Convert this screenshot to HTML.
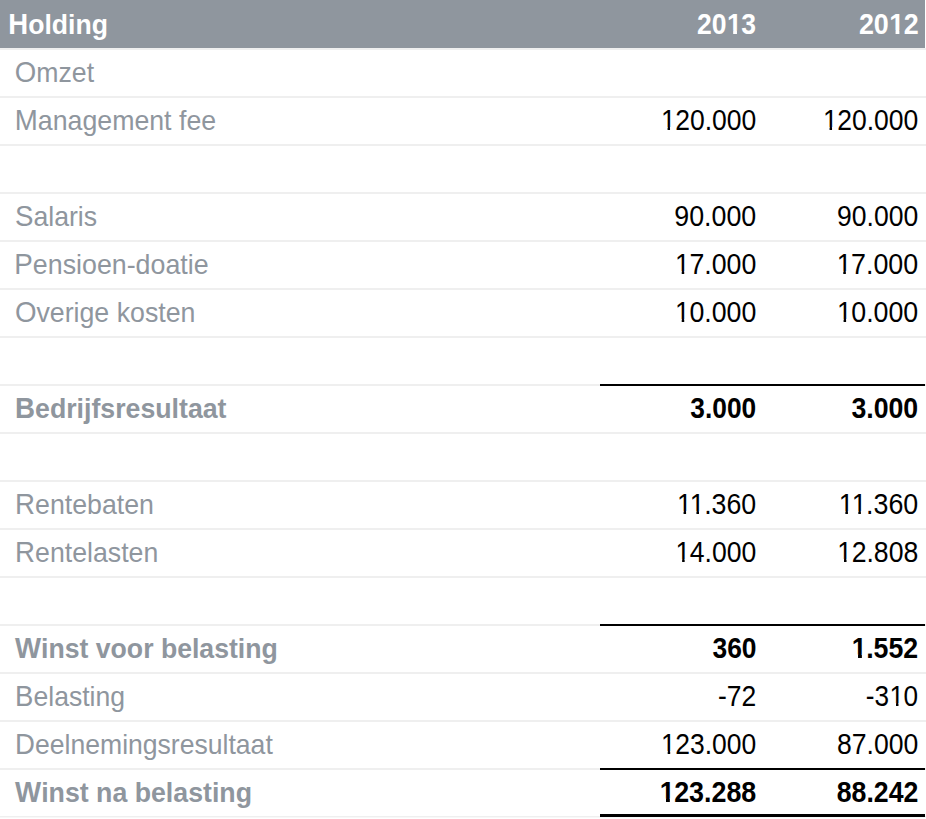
<!DOCTYPE html><html><head><meta charset="utf-8"><style>
*{margin:0;padding:0;box-sizing:border-box}
html,body{width:926px;height:819px;background:#fff;overflow:hidden}
body{position:relative;font-family:"Liberation Sans",Arial,sans-serif;font-size:29.0px}
.hd{position:absolute;left:0;top:0;width:925px;height:48px;background:#8f969e;color:#fff;font-weight:bold}
.r{position:absolute;left:0;width:925px;height:48px}
.ln{position:absolute;left:0;width:926px;height:2px;background:#efefef}
.bk{position:absolute;left:600px;width:325px;background:#000}
.t{position:absolute;white-space:nowrap;line-height:48px;top:0}
.l{left:15px;color:#8f969e;transform-origin:0 14px;font-size:28.0px}
.r .l{top:1px}
.hd .l{left:8px;top:1px;color:#fff;font-size:28.0px}
.c2,.c3{text-align:right;transform-origin:100% 14px}
.c2{right:170px}
.c3{right:8px}
.b{font-weight:bold}
.k{font-size:29.0px;line-height:0}
.o1{position:relative;left:0.6px;clip-path:polygon(0 0,100% 0,100% 23px,9.95px 23px,9.95px 100%,7.2px 100%,7.2px 23px,0 23px)}
.b .o1,.hd .o1{clip-path:polygon(0 0,100% 0,100% 22.4px,10.85px 22.4px,10.85px 100%,6.7px 100%,6.7px 22.4px,0 22.4px)}
.v{color:#000}
</style></head><body>
<div class="hd"><span class="t l" style="transform:translateX(0.31px) scaleX(0.9489)"><span class="k">H</span>olding</span><span class="t c2" style="transform:translateX(1.46px) scaleX(0.9142)">20<span class="o1">1</span>3</span><span class="t c3" style="transform:translateX(2.15px) scaleX(0.9266)">20<span class="o1">1</span>2</span></div>
<div class="r" style="top:48px"><span class="t l" style="transform:translateX(-0.21px) scaleX(0.9525)"><span class="k">O</span>mzet</span><span class="t c2 v"></span><span class="t c3 v"></span></div>
<div class="r" style="top:96px"><span class="t l" style="transform:translateX(-0.19px) scaleX(0.9540)"><span class="k">M</span>anagement fee</span><span class="t c2 v" style="transform:translateX(1.39px) scaleX(0.9139)"><span class="o1">1</span>20.000</span><span class="t c3 v" style="transform:translateX(1.39px) scaleX(0.9139)"><span class="o1">1</span>20.000</span></div>
<div class="r" style="top:144px"><span class="t l"></span><span class="t c2 v"></span><span class="t c3 v"></span></div>
<div class="r" style="top:192px"><span class="t l" style="transform:translateX(-0.02px) scaleX(0.9519)"><span class="k">S</span>alaris</span><span class="t c2 v" style="transform:translateX(1.55px) scaleX(0.9238)">90.000</span><span class="t c3 v" style="transform:translateX(1.49px) scaleX(0.9151)">90.000</span></div>
<div class="r" style="top:240px"><span class="t l" style="transform:translateX(-0.66px) scaleX(0.9566)"><span class="k">P</span>ensioen-doatie</span><span class="t c2 v" style="transform:translateX(1.53px) scaleX(0.9211)"><span class="o1">1</span>7.000</span><span class="t c3 v" style="transform:translateX(1.44px) scaleX(0.9252)"><span class="o1">1</span>7.000</span></div>
<div class="r" style="top:288px"><span class="t l" style="transform:translateX(-0.10px) scaleX(0.9546)"><span class="k">O</span>verige kosten</span><span class="t c2 v" style="transform:translateX(1.53px) scaleX(0.9211)"><span class="o1">1</span>0.000</span><span class="t c3 v" style="transform:translateX(1.53px) scaleX(0.9227)"><span class="o1">1</span>0.000</span></div>
<div class="r" style="top:336px"><span class="t l"></span><span class="t c2 v"></span><span class="t c3 v"></span></div>
<div class="r b" style="top:384px"><span class="t l" style="transform:translateX(0.05px) scaleX(0.9538)"><span class="k">B</span>edrijfsresultaat</span><span class="t c2 v" style="transform:translateX(1.57px) scaleX(0.9072)">3.000</span><span class="t c3 v" style="transform:translateX(1.62px) scaleX(0.9196)">3.000</span></div>
<div class="r" style="top:432px"><span class="t l"></span><span class="t c2 v"></span><span class="t c3 v"></span></div>
<div class="r" style="top:480px"><span class="t l" style="transform:translateX(0.08px) scaleX(0.9537)"><span class="k">R</span>entebaten</span><span class="t c2 v" style="transform:translateX(1.58px) scaleX(0.9215)"><span class="o1">1</span><span class="o1">1</span>.360</span><span class="t c3 v" style="transform:translateX(1.64px) scaleX(0.9243)"><span class="o1">1</span><span class="o1">1</span>.360</span></div>
<div class="r" style="top:528px"><span class="t l" style="transform:translateX(0.09px) scaleX(0.9536)"><span class="k">R</span>entelasten</span><span class="t c2 v" style="transform:translateX(1.51px) scaleX(0.9157)"><span class="o1">1</span>4.000</span><span class="t c3 v" style="transform:translateX(1.57px) scaleX(0.9182)"><span class="o1">1</span>2.808</span></div>
<div class="r" style="top:576px"><span class="t l"></span><span class="t c2 v"></span><span class="t c3 v"></span></div>
<div class="r b" style="top:624px"><span class="t l" style="transform:translateX(0.04px) scaleX(0.9508)"><span class="k">W</span>inst voor belasting</span><span class="t c2 v" style="transform:translateX(1.15px) scaleX(0.9101)">360</span><span class="t c3 v" style="transform:translateX(1.60px) scaleX(0.9211)"><span class="o1">1</span>.552</span></div>
<div class="r" style="top:672px"><span class="t l" style="transform:translateX(0.10px) scaleX(0.9491)"><span class="k">B</span>elasting</span><span class="t c2 v" style="transform:translateX(1.29px) scaleX(0.9120)">-72</span><span class="t c3 v" style="transform:translateX(1.02px) scaleX(0.9016)">-3<span class="o1">1</span>0</span></div>
<div class="r" style="top:720px"><span class="t l" style="transform:translateX(0.12px) scaleX(0.9488)"><span class="k">D</span>eelnemingsresultaat</span><span class="t c2 v" style="transform:translateX(1.40px) scaleX(0.9125)"><span class="o1">1</span>23.000</span><span class="t c3 v" style="transform:translateX(1.49px) scaleX(0.9156)">87.000</span></div>
<div class="r b" style="top:768px"><span class="t l" style="transform:translateX(0.03px) scaleX(0.9543)"><span class="k">W</span>inst na belasting</span><span class="t c2 v" style="transform:translateX(1.45px) scaleX(0.9256)"><span class="o1">1</span>23.288</span><span class="t c3 v" style="transform:translateX(1.60px) scaleX(0.9197)">88.242</span></div>
<div class="ln" style="top:48px"></div>
<div class="ln" style="top:96px"></div>
<div class="ln" style="top:144px"></div>
<div class="ln" style="top:192px"></div>
<div class="ln" style="top:240px"></div>
<div class="ln" style="top:288px"></div>
<div class="ln" style="top:336px"></div>
<div class="ln" style="top:384px"></div>
<div class="ln" style="top:432px"></div>
<div class="ln" style="top:480px"></div>
<div class="ln" style="top:528px"></div>
<div class="ln" style="top:576px"></div>
<div class="ln" style="top:624px"></div>
<div class="ln" style="top:672px"></div>
<div class="ln" style="top:720px"></div>
<div class="ln" style="top:768px"></div>
<div class="ln" style="top:816px;height:1px"></div><div class="ln" style="top:817px;height:1px;background:#f8f8f8"></div>
<div class="bk" style="top:384px;height:2px"></div>
<div class="bk" style="top:624px;height:2px"></div>
<div class="bk" style="top:768px;height:2px"></div>
<div class="bk" style="top:814px;height:3px"></div>
</body></html>
